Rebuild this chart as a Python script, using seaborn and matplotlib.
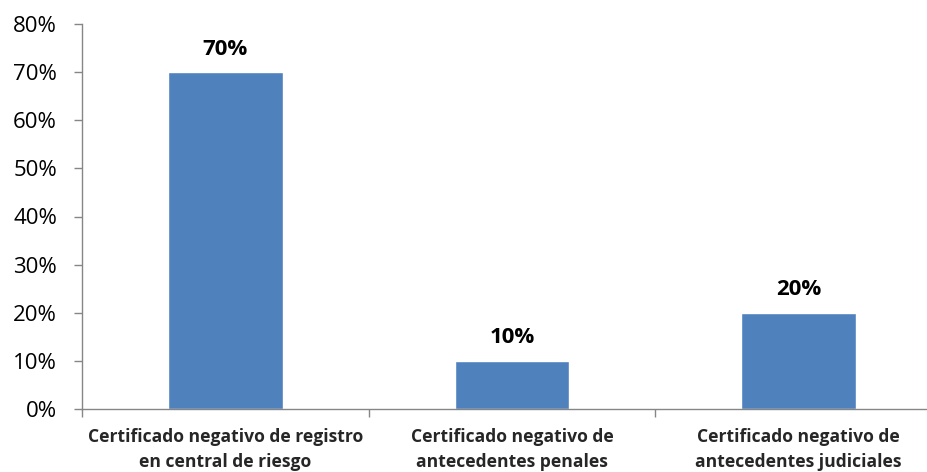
import matplotlib
matplotlib.use("Agg")
import matplotlib.pyplot as plt
import seaborn as sns
import pandas as pd
from matplotlib.ticker import FuncFormatter, FixedLocator

categories = [
    "Certificado negativo de registro\nen central de riesgo",
    "Certificado negativo de\nantecedentes penales",
    "Certificado negativo de\nantecedentes judiciales",
]
values = [70, 10, 20]
value_labels = ["70%", "10%", "20%"]

sns.set_style("white")
plt.rcParams["font.family"] = ["Open Sans", "DejaVu Sans"]

df = pd.DataFrame({"cat": categories, "val": values})

fig = plt.figure(figsize=(9.28, 4.72), dpi=100)
ax = fig.add_axes([82 / 928, 63 / 472, (942 - 82) / 928, 385 / 472])

sns.barplot(data=df, x="cat", y="val", color="#4F81BD", saturation=1,
            width=0.4, ax=ax)

ax.set_ylim(0, 80)
ax.set_xlim(-0.5, 2.5)
ax.set_yticks(range(0, 81, 10))
ax.yaxis.set_major_formatter(FuncFormatter(lambda v, p: f"{int(v)}%"))
ax.tick_params(axis="y", labelsize=16, length=6, width=1, color="#868686",
               direction="out", left=True, pad=12, labelcolor="black")
ax.tick_params(axis="x", which="major", length=0, labelsize=12.6, pad=14)
ax.xaxis.set_minor_locator(FixedLocator([-0.5, 0.5, 1.5, 2.5]))
ax.tick_params(axis="x", which="minor", length=6, width=1, color="#868686",
               direction="out", bottom=True)
for lab in ax.get_xticklabels():
    lab.set_fontweight("bold")
    lab.set_linespacing(1.45)
ax.set_xlabel("")
ax.set_ylabel("")

for s in ["top", "right"]:
    ax.spines[s].set_visible(False)
for s in ["left", "bottom"]:
    ax.spines[s].set_color("#868686")
    ax.spines[s].set_linewidth(1)

for i, (v, t) in enumerate(zip(values, value_labels)):
    ax.text(i, v + 2.6, t, ha="center", va="bottom", fontsize=16,
            fontweight="bold", color="black")

fig.savefig("out.png", dpi=100)
